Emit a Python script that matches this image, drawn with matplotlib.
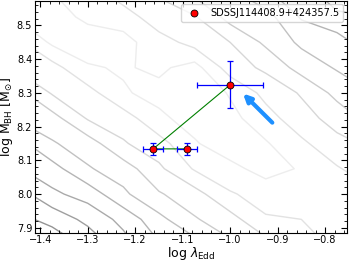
import numpy as np
import matplotlib
matplotlib.use('Agg')
import matplotlib.pyplot as plt
from matplotlib.ticker import MultipleLocator

# 源数据: 三个点 (log lambda_Edd, log M_BH) 及误差
src_name = 'SDSSJ114408.9+424357.5'
lam = [-1.09, -1.162, -1.0]
mbh = [8.134, 8.134, 8.324]
lam_err = [0.021, 0.021, 0.07]
mbh_err = [0.018, 0.018, 0.07]

# 箭头 起点 -> 终点
arrow_tail = (-0.907, 8.206)
arrow_head = (-0.977, 8.304)

# 背景密度网格 (手工读取的近似值)
grid_x = [-1.45, -1.375, -1.30, -1.225, -1.15, -1.075, -1.00, -0.925, -0.85, -0.775, -0.70]
grid_y = [7.85, 7.925, 8.00, 8.075, 8.15, 8.225, 8.30, 8.375, 8.45, 8.525, 8.60]
density = [
    [0.0, 0.3, 1.2, 2.6, 3.9, 4.6, 5.8, 6.6, 7.1, 8.4, 8.6],
    [0.7, 1.3, 2.3, 3.3, 4.7, 5.9, 6.6, 7.9, 8.0, 8.7, 9.1],
    [1.5, 2.8, 3.4, 4.8, 5.9, 6.6, 7.9, 8.4, 9.0, 8.7, 8.2],
    [2.9, 3.6, 4.9, 5.5, 6.8, 8.1, 8.7, 9.4, 8.9, 8.1, 7.4],
    [3.6, 4.9, 5.5, 6.9, 7.6, 8.9, 9.6, 9.1, 8.2, 7.3, 6.8],
    [5.1, 5.6, 7.1, 7.5, 8.8, 9.4, 9.3, 8.4, 7.4, 6.6, 5.6],
    [5.6, 7.1, 7.6, 8.9, 9.3, 9.8, 8.9, 7.7, 6.9, 5.7, 5.0],
    [7.2, 7.6, 8.9, 9.1, 8.8, 9.4, 7.5, 6.8, 5.6, 4.9, 4.3],
    [7.7, 9.2, 9.5, 9.3, 8.5, 7.6, 7.0, 5.8, 4.8, 4.5, 3.3],
    [9.1, 9.4, 8.8, 8.6, 7.3, 7.1, 5.6, 5.4, 3.9, 3.2, 3.0],
    [9.3, 9.0, 8.5, 7.3, 6.9, 5.7, 5.2, 4.1, 3.4, 2.4, 2.2],
]
levels = [1, 2, 3, 4, 5, 6, 7, 8, 9]

fig = plt.figure(figsize=(3.49, 2.62), dpi=100)
ax = fig.add_axes([0.1003, 0.112, 0.8937, 0.886])

# 1.背景等值线
gx, gy = np.meshgrid(grid_x, grid_y)
grays = [str(g) for g in np.linspace(0.58, 0.93, len(levels))]
ax.contour(gx, gy, np.array(density), levels=levels, colors=grays, linewidths=1.0, zorder=1)

# 2.连线 + 误差棒
ax.plot(lam, mbh, color='green', lw=0.8, zorder=2)
ax.errorbar(lam, mbh, xerr=lam_err, yerr=mbh_err, fmt='none', ecolor='blue',
            elinewidth=0.9, capsize=2.5, capthick=0.9, zorder=3)
ax.plot(lam, mbh, 'o', ms=5, mfc='red', mec='black', mew=0.6, ls='none',
        zorder=4, label=src_name)

# 3.箭头
ax.annotate('', xy=arrow_head, xytext=arrow_tail,
            arrowprops=dict(arrowstyle='-|>,head_length=0.45,head_width=0.22',
                            color='#1e90ff', lw=3), zorder=5)

ax.set_xlim(-1.411, -0.754)
ax.set_ylim(7.8855, 8.574)
ax.xaxis.set_major_locator(MultipleLocator(0.1))
ax.xaxis.set_minor_locator(MultipleLocator(0.02))
ax.yaxis.set_major_locator(MultipleLocator(0.1))
ax.yaxis.set_minor_locator(MultipleLocator(0.02))
ax.tick_params(which='both', direction='in', top=True, right=True, labelsize=7, pad=2)
ax.tick_params(which='major', length=4)
ax.tick_params(which='minor', length=2)

ax.set_xlabel(r'log $\lambda_{\rm Edd}$', fontsize=9, labelpad=0)
ax.set_ylabel(r'log M$_{\rm BH}$ [M$_{\odot}$]', fontsize=9, labelpad=1)

ax.legend(loc='upper right', fontsize=7, handletextpad=0.6, borderpad=0.4,
          borderaxespad=0.4)

fig.savefig('out.png', dpi=100)
